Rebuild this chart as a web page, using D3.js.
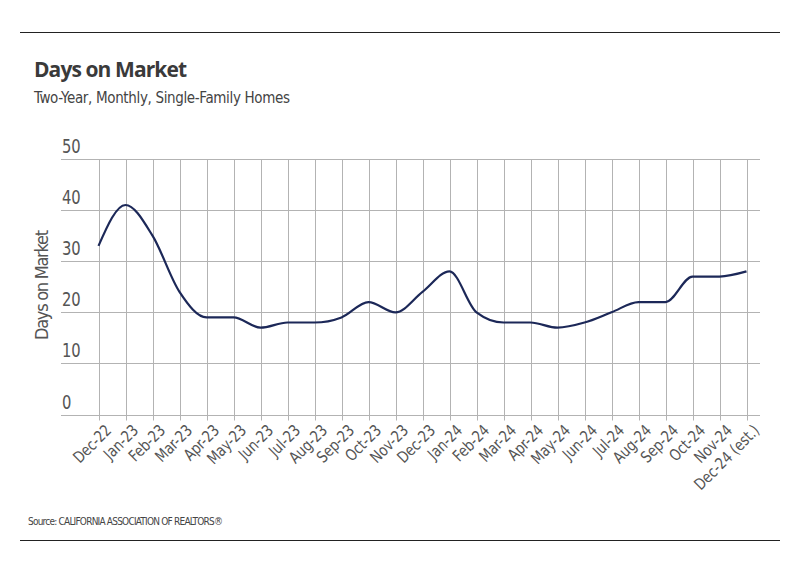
<!DOCTYPE html>
<html lang="en">
  <head>
    <meta charset="UTF-8" />
    <title>Days on Market</title>
    <script src="https://d3js.org/d3.v7.min.js"></script>
    <style>
      body {
        margin: 0;
        background: #fff;
      }
      .grid line {
        stroke: #b3b3b3;
        stroke-width: 1;
      }
      .tick-label {
        fill: #555;
        font-family: "Liberation Sans Narrow", "DejaVu Sans Condensed", sans-serif;
      }
    </style>
  </head>
  <body>
    <svg id="svg" width="799" height="575"></svg>

    <script>
      const months = [
        "Dec-22", "Jan-23", "Feb-23", "Mar-23", "Apr-23", "May-23", "Jun-23",
        "Jul-23", "Aug-23", "Sep-23", "Oct-23", "Nov-23", "Dec-23", "Jan-24",
        "Feb-24", "Mar-24", "Apr-24", "May-24", "Jun-24", "Jul-24", "Aug-24",
        "Sep-24", "Oct-24", "Nov-24", "Dec-24 (est.)"
      ];
      const days = [
        33, 41, 35, 24, 19, 19, 17, 18, 18, 19, 22, 20, 24, 28,
        20, 18, 18, 17, 18, 20, 22, 22, 27, 27, 28
      ];
      const yTicks = [0, 10, 20, 30, 40, 50];

      const svg = d3.select("#svg");
      const font = "'Liberation Sans Narrow', 'DejaVu Sans Condensed', sans-serif";

      // frame lines
      svg.append("line")
        .attr("x1", 20).attr("x2", 780).attr("y1", 32.5).attr("y2", 32.5)
        .attr("stroke", "#222").attr("stroke-width", 1.2);
      svg.append("line")
        .attr("x1", 20).attr("x2", 780).attr("y1", 540.5).attr("y2", 540.5)
        .attr("stroke", "#222").attr("stroke-width", 1.2);

      svg.append("text")
        .attr("x", 34).attr("y", 77)
        .style("font-family", "'Open Sans', sans-serif")
        .style("font-weight", "bold")
        .style("font-size", "21px")
        .attr("fill", "#3a3a3a")
        .attr("textLength", 153)
        .text("Days on Market");

      svg.append("text")
        .attr("x", 34).attr("y", 103)
        .style("font-family", font)
        .style("font-size", "15px")
        .attr("fill", "#444")
        .attr("textLength", 256)
        .text("Two-Year, Monthly, Single-Family Homes");

      svg.append("text")
        .attr("x", 28).attr("y", 525)
        .style("font-family", font)
        .style("font-size", "10px")
        .attr("fill", "#444")
        .attr("textLength", 195)
        .text("Source:  CALIFORNIA ASSOCIATION OF REALTORS®");

      const x = d3.scalePoint().domain(months).range([98.5, 746.5]);
      const y = d3.scaleLinear().domain([0, 50]).range([414.5, 159]);
      const left = 61, right = 760;

      const grid = svg.append("g").attr("class", "grid");
      grid.selectAll(".h")
        .data(yTicks)
        .enter()
        .append("line")
        .attr("x1", left).attr("x2", right)
        .attr("y1", (d) => Math.round(y(d)) + 0.5)
        .attr("y2", (d) => Math.round(y(d)) + 0.5);
      grid.selectAll(".v")
        .data(months)
        .enter()
        .append("line")
        .attr("x1", (d) => Math.round(x(d)) + 0.5)
        .attr("x2", (d) => Math.round(x(d)) + 0.5)
        .attr("y1", y(50))
        .attr("y2", y(0) + 6);

      // y tick labels sit above their gridline
      svg.append("g")
        .selectAll("text")
        .data(yTicks)
        .enter()
        .append("text")
        .attr("class", "tick-label")
        .attr("transform", (d) => `translate(62,${y(d) - 6}) scale(0.82,1)`)
        .style("font-size", "20px")
        .text((d) => d);

      svg.append("text")
        .attr("class", "tick-label")
        .attr("transform", "translate(48,285) rotate(-90)")
        .attr("text-anchor", "middle")
        .style("font-size", "18px")
        .attr("textLength", 110)
        .text("Days on Market");

      // x tick labels
      svg.append("g")
        .selectAll("text")
        .data(months)
        .enter()
        .append("text")
        .attr("class", "tick-label")
        .attr("text-anchor", "end")
        .attr("transform", (d) => `translate(${x(d) + 6},${y(0) + 9}) rotate(-45) scale(0.9,1)`)
        .attr("dy", "0.7em")
        .style("font-size", "16px")
        .text((d) => d);

      const line = d3.line()
        .x((d, i) => x(months[i]))
        .y((d) => y(d))
        .curve(d3.curveMonotoneX);

      svg.append("path")
        .datum(days)
        .attr("d", line)
        .attr("fill", "none")
        .attr("stroke", "#1c2858")
        .attr("stroke-width", 2.2);
    </script>
  </body>
</html>
